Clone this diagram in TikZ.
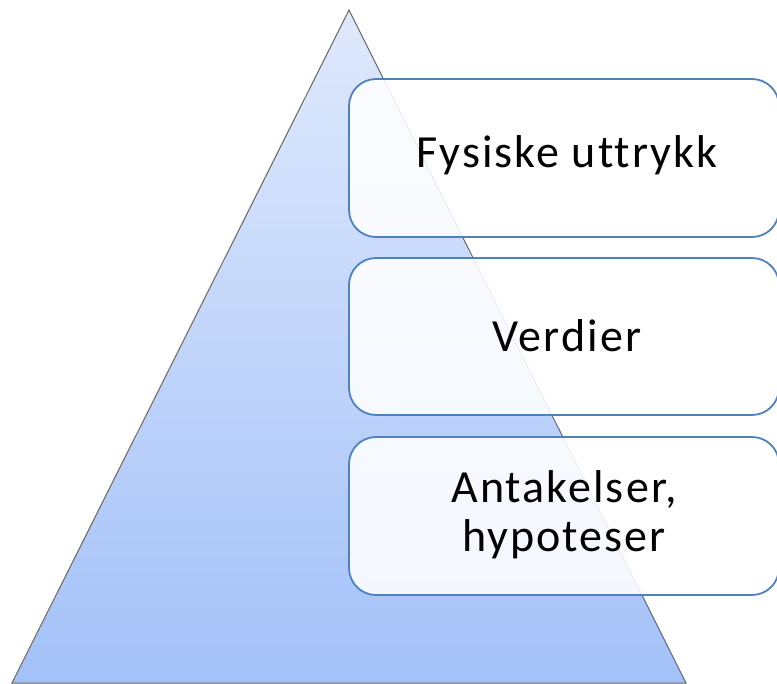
\documentclass[tikz,border=0pt]{standalone}
\usepackage{fontspec}
\setmainfont{Carlito}
\newfontfamily\boxfont[LetterSpace=4.5, Ligatures={NoCommon}]{Carlito}
\begin{document}
\begin{tikzpicture}[x=1pt,y=-1pt,
  layerbox/.style={draw=boxblue, line width=1.8pt, rounded corners=27pt,
    fill=white, fill opacity=0.88, text opacity=1},
  label/.style={font=\boxfont\fontsize{46}{49}\selectfont, text=black, align=center, inner sep=0pt}]
\definecolor{boxblue}{HTML}{4F81BD}
\definecolor{pyrtop}{HTML}{DFE9FC}
\definecolor{pyrbot}{HTML}{A3C1F8}
\useasboundingbox (0,0) rectangle (777,684);
% pyramid
\shade[top color=pyrtop, bottom color=pyrbot] (349,10) -- (686,683) -- (12,683) -- cycle;
\draw[draw=black!60, line width=1pt, line join=miter] (349,10) -- (686,683) -- (12,683) -- cycle;
% layer boxes
\draw[layerbox] (349,79) rectangle (779,237);
\draw[layerbox] (349,258) rectangle (779,415);
\draw[layerbox] (349,437) rectangle (779,595);
\node[label, anchor=base] (t1) at (567,168) {Fysiske uttrykk};
\node[label, anchor=base] (t2) at (567,352) {Verdier};
\node[label] (t3) at (564,515) {Antakelser,\\hypoteser};
\end{tikzpicture}
\end{document}
